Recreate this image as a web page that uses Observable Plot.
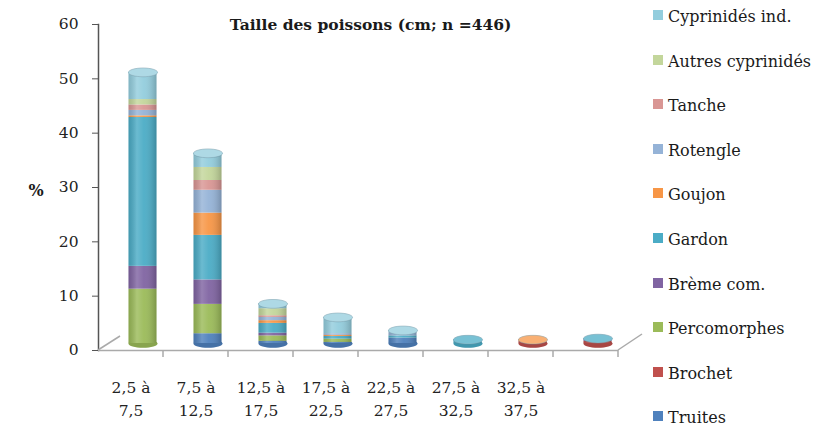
<!DOCTYPE html>
<html>
<head>
<meta charset="utf-8">
<script src="https://cdn.jsdelivr.net/npm/d3@7"></script>
<script src="https://cdn.jsdelivr.net/npm/@observablehq/plot@0.6"></script>
<style>
  body { margin: 0; background: #fff; }
  #wrap { position: relative; width: 825px; height: 429px; overflow: hidden; background: #fff; }
  #chart { position: absolute; left: 0; top: 0; }
  #legend { position: absolute; left: 653px; top: 0; font-family: "DejaVu Serif", serif; font-size: 16px; color: #1a1a1a; }
  .item { position: absolute; left: 0; white-space: nowrap; display: flex; align-items: center; }
  .sw { width: 10px; height: 10px; margin-right: 5px; margin-top: -3px; }
</style>
</head>
<body>
<div id="wrap"><div id="chart"></div><div id="legend"></div></div>
<script>
const title = "Taille des poissons (cm; n =446)";
const yLabel = "%";
const categories = ["2,5 à 7,5", "7,5 à 12,5", "12,5 à 17,5", "17,5 à 22,5", "22,5 à 27,5", "27,5 à 32,5", "32,5 à 37,5", "> 37,5"];
const tickLabels = ["2,5 à\n7,5", "7,5 à\n12,5", "12,5 à\n17,5", "17,5 à\n22,5", "22,5 à\n27,5", "27,5 à\n32,5", "32,5 à\n37,5", ""];
const yTicks = [0, 10, 20, 30, 40, 50, 60];

const species = ["Truites", "Brochet", "Percomorphes", "Brème com.", "Gardon", "Goujon", "Rotengle", "Tanche", "Autres cyprinidés", "Cyprinidés ind."];
const colors = ["#4F81BD", "#C0504D", "#9BBB59", "#8064A2", "#4BACC6", "#F79646", "#95B3D7", "#D99694", "#C3D69B", "#93CDDD"];

const truites      = [0,    1.8, 0.4, 0.2, 1.0, 0,   0,   0];
const brochet      = [0,    0,   0,   0,   0,   0,   0.4, 0.4];
const percomorphes = [10.0, 5.4, 1.0, 0.6, 0,   0,   0,   0];
const breme        = [4.2,  4.5, 0.5, 0,   0,   0,   0,   0.3];
const gardon       = [27.4, 8.2, 1.8, 0.5, 0.4, 0.7, 0,   0.2];
const goujon       = [0.3,  4.1, 0.5, 0.2, 0,   0,   0.3, 0];
const rotengle     = [1.0,  4.2, 0.6, 0.3, 0.6, 0,   0,   0];
const tanche       = [1.0,  1.8, 0.3, 0,   0,   0,   0,   0];
const autres       = [1.0,  2.4, 1.3, 0,   0,   0,   0,   0];
const cyprInd      = [5.0,  2.6, 0.9, 3.0, 0.4, 0,   0,   0];

const series = [truites, brochet, percomorphes, breme, gardon, goujon, rotengle, tanche, autres, cyprInd];

// long table built from the arrays
const data = [];
categories.forEach((c, ci) => {
  species.forEach((s, si) => {
    const v = series[si][ci];
    if (v > 0) data.push({cat: c, species: s, value: v});
  });
});
const totals = categories.map((c, ci) => {
  const rows = data.filter(d => d.cat === c);
  return {cat: c, total: d3.sum(rows, d => d.value), top: rows[rows.length - 1].species, bottom: rows[0].species};
});

// ellipse symbol for cylinder caps
const ellipse = {
  draw(ctx, size) {
    const rx = Math.sqrt(size / Math.PI), ry = rx * 0.3, k = 0.5523;
    ctx.moveTo(rx, 0);
    ctx.bezierCurveTo(rx, ry * k, rx * k, ry, 0, ry);
    ctx.bezierCurveTo(-rx * k, ry, -rx, ry * k, -rx, 0);
    ctx.bezierCurveTo(-rx, -ry * k, -rx * k, -ry, 0, -ry);
    ctx.bezierCurveTo(rx * k, -ry, rx, -ry * k, rx, 0);
    ctx.closePath();
  }
};

const DX = 12, DY = -7, INSET = 18.5, R = 14.5;

const plot = Plot.plot({
  width: 640,
  height: 429,
  marginLeft: 98,
  marginRight: 22,
  marginTop: 24,
  marginBottom: 79,
  x: {domain: categories, paddingInner: 0, paddingOuter: 0, axis: null},
  y: {domain: [0, 60]},
  color: {domain: species, range: colors},
  style: {fontFamily: "DejaVu Serif, serif", fontSize: "15px", color: "#222", background: "transparent", overflow: "visible"},
  marks: [
    Plot.axisY({ticks: yTicks, tickSize: 6, tickPadding: 14, label: null, stroke: "#555", fill: "#222", fontSize: 15.5}),
    Plot.frame({anchor: "left", stroke: "#555", strokeWidth: 1.5}),
    Plot.ruleY([0], {stroke: "#aaa", strokeWidth: 1.5}),
    // bottom of cylinders
    Plot.dot(totals, {x: "cat", y: () => 0, fill: "bottom", r: R, symbol: ellipse, dx: DX, dy: DY, stroke: "none"}),
    Plot.dot(totals, {x: "cat", y: () => 0, fill: "#000", fillOpacity: 0.12, r: R, symbol: ellipse, dx: DX, dy: DY, stroke: "none"}),
    // stacked segments
    Plot.barY(data, {x: "cat", y: "value", fill: "species", insetLeft: INSET, insetRight: INSET, dx: DX, dy: DY}),
    // cylinder shading
    Plot.barY(totals, {x: "cat", y: "total", fill: "url(#cyl)", insetLeft: INSET, insetRight: INSET, dx: DX, dy: DY}),
    // top caps
    Plot.dot(totals, {x: "cat", y: "total", fill: "top", r: R, symbol: ellipse, dx: DX, dy: DY, stroke: "#6a8fa0", strokeOpacity: 0.5, strokeWidth: 1}),
    Plot.dot(totals, {x: "cat", y: "total", fill: "#fff", fillOpacity: 0.25, r: R, symbol: ellipse, dx: DX, dy: DY, stroke: "none"}),
    // x labels
    Plot.text(categories, {x: d => d, text: (d, i) => tickLabels[i], frameAnchor: "bottom", lineAnchor: "top", dy: 26, lineHeight: 1.5, fontSize: 15.5, fill: "#222"}),
    // y label
    Plot.text([yLabel], {frameAnchor: "left", dx: -70, dy: 3, fontWeight: "bold", fontSize: 16, fill: "#1a1a1a"}),
    // title
    Plot.text([title], {frameAnchor: "top", dy: -6, dx: 12, fontWeight: "bold", fontSize: 15.5, fill: "#1a1a1a"})
  ]
});

// gradient definition for cylinder shading
const svg = d3.select(plot);
const defs = svg.insert("defs", ":first-child");
const g = defs.append("linearGradient").attr("id", "cyl").attr("x1", "0").attr("x2", "1").attr("y1", "0").attr("y2", "0");
g.append("stop").attr("offset", "0%").attr("stop-color", "#000").attr("stop-opacity", 0.12);
g.append("stop").attr("offset", "30%").attr("stop-color", "#fff").attr("stop-opacity", 0.18);
g.append("stop").attr("offset", "55%").attr("stop-color", "#fff").attr("stop-opacity", 0.05);
g.append("stop").attr("offset", "100%").attr("stop-color", "#000").attr("stop-opacity", 0.2);

// 3D floor decorations from the plot's own scales
const xs = plot.scale("x"), ys = plot.scale("y");
const bw = xs.bandwidth;
const y0 = ys.apply(0);
const x0 = xs.apply(categories[0]);
const xEnd = xs.apply(categories[categories.length - 1]) + bw;
const deco = svg.append("g").attr("stroke", "#aaa").attr("stroke-width", 1.5).attr("fill", "none");
deco.append("line").attr("x1", x0).attr("y1", y0).attr("x2", x0 + 2 * DX - 2).attr("y2", y0 + 2 * DY);
deco.append("line").attr("x1", xEnd).attr("y1", y0).attr("x2", xEnd + 2 * DX).attr("y2", y0 + 2 * DY - 2);
categories.forEach(c => {
  const xx = xs.apply(c) + bw;
  deco.append("line").attr("x1", xx).attr("y1", y0).attr("x2", xx).attr("y2", y0 + 7);
});
// move decorations behind bars
plot.insertBefore(deco.node(), plot.querySelector("g[aria-label='dot']") || null);

document.getElementById("chart").appendChild(plot);

// legend (top entry = last series)
const legend = document.getElementById("legend");
species.slice().reverse().forEach((s, i) => {
  const item = document.createElement("div");
  item.className = "item";
  item.style.top = (7 + i * 44.6) + "px";
  const sw = document.createElement("span");
  sw.className = "sw";
  sw.style.background = colors[species.indexOf(s)];
  const t = document.createElement("span");
  t.textContent = s;
  item.appendChild(sw);
  item.appendChild(t);
  legend.appendChild(item);
});
</script>
</body>
</html>
